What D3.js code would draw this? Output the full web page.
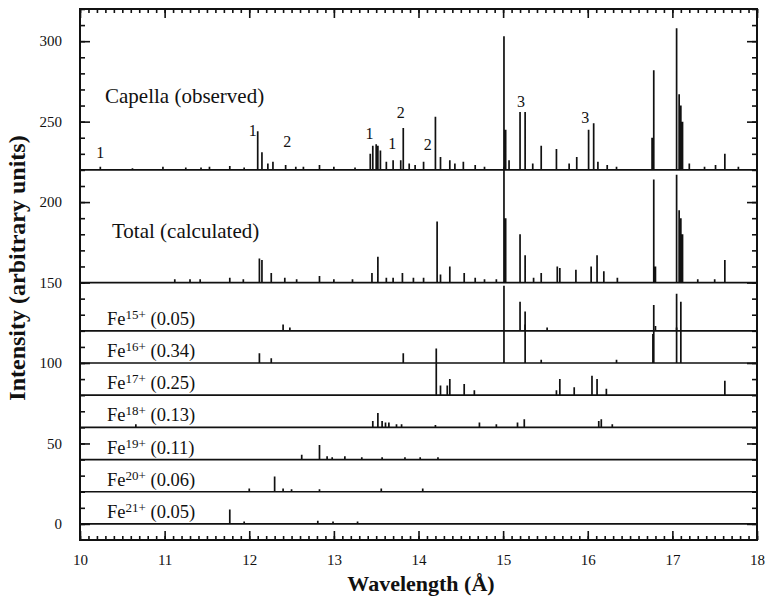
<!DOCTYPE html>
<html>
<head>
<meta charset="utf-8">
<script src="https://cdn.jsdelivr.net/npm/d3@7"></script>
<style>
  body { margin: 0; background: #fff; }
  svg text { font-family: 'Liberation Serif', 'DejaVu Serif', serif; fill: #111; }
</style>
</head>
<body>
<svg id="chart" width="772" height="602"></svg>
<script>
// Wavelength axis (Å) and intensity axis ticks
const xTicks = [10, 11, 12, 13, 14, 15, 16, 17, 18];
const yTicks = [0, 50, 100, 150, 200, 250, 300];

// Vertical offsets of each stacked spectrum (intensity units)
const rowOffsets = [220, 150, 120, 100, 80, 60, 40, 20, 0];

// Ion rows: charge state and relative weight
const ionCharges = ["15+", "16+", "17+", "18+", "19+", "20+", "21+"];
const ionWeights = ["0.05", "0.34", "0.25", "0.13", "0.11", "0.06", "0.05"];

// Line lists: [wavelength Å, height above the row baseline]
const capellaLines = [
  [10.24, 2], [10.62, 1], [10.98, 2], [11.25, 1.5], [11.43, 1.5], [11.53, 2], [11.77, 2.5],
  [11.94, 1.5], [12.10, 24], [12.15, 11], [12.22, 4], [12.28, 5], [12.43, 3], [12.55, 2],
  [12.64, 2], [12.83, 3], [13.00, 2], [13.25, 1.5], [13.43, 10], [13.46, 15], [13.50, 16],
  [13.52, 15], [13.55, 12], [13.62, 5], [13.70, 6], [13.79, 6], [13.82, 26], [13.89, 4],
  [13.96, 3], [14.06, 5], [14.20, 33], [14.26, 8], [14.37, 6], [14.43, 4], [14.53, 5],
  [14.67, 3], [14.78, 2], [15.01, 83], [15.03, 25], [15.07, 6], [15.20, 36], [15.26, 36],
  [15.35, 4], [15.45, 15], [15.63, 13], [15.78, 4], [15.87, 8], [16.01, 25], [16.07, 29],
  [16.12, 5], [16.23, 3], [16.34, 2], [16.78, 62], [16.76, 20], [17.05, 88], [17.08, 47],
  [17.10, 40], [17.12, 30], [17.20, 4], [17.38, 2], [17.51, 3], [17.62, 10], [17.78, 2]
];
const totalLines = [
  [11.12, 2], [11.30, 2], [11.42, 2], [11.77, 3], [11.93, 2], [12.12, 15], [12.15, 14],
  [12.26, 6], [12.42, 3], [12.56, 2], [12.83, 4], [13.00, 2], [13.22, 2], [13.45, 6],
  [13.52, 16], [13.62, 3], [13.70, 3], [13.81, 6], [13.94, 3], [14.06, 3], [14.22, 38],
  [14.26, 5], [14.37, 10], [14.54, 6], [14.67, 3], [14.78, 2], [14.92, 2], [15.01, 72],
  [15.03, 40], [15.20, 30], [15.26, 17], [15.36, 3], [15.45, 6], [15.64, 10], [15.67, 9],
  [15.86, 8], [16.04, 10], [16.11, 17], [16.19, 7], [16.35, 3], [16.78, 64], [16.80, 10],
  [17.05, 67], [17.08, 45], [17.10, 40], [17.12, 30], [17.30, 2], [17.50, 2], [17.62, 14]
];
const fe15Lines = [
  [12.40, 4], [12.48, 2], [15.20, 18], [15.26, 12], [15.52, 2], [16.80, 3], [17.05, 2]
];
const fe16Lines = [
  [12.12, 6], [12.26, 3], [13.82, 6], [15.01, 48], [15.26, 24], [15.45, 2], [16.34, 2],
  [16.77, 18], [16.78, 36], [17.05, 43], [17.10, 38]
];
const fe17Lines = [
  [14.21, 29], [14.26, 6], [14.34, 6], [14.37, 10], [14.54, 7], [14.66, 3], [15.63, 3],
  [15.67, 10], [15.84, 5], [16.05, 12], [16.11, 10], [16.22, 4], [17.62, 9]
];
const fe18Lines = [
  [10.66, 2], [13.46, 4], [13.52, 9], [13.57, 4], [13.61, 3], [13.65, 3], [13.74, 2],
  [13.80, 2], [14.20, 1.5], [14.72, 3], [14.92, 2], [15.17, 3], [15.25, 5], [16.13, 4],
  [16.16, 5], [16.29, 2]
];
const fe19Lines = [
  [12.62, 3], [12.83, 9], [12.92, 2], [12.98, 1.5], [13.13, 2], [13.33, 1.5], [13.57, 1.5],
  [13.84, 1.5], [14.02, 1.5], [14.23, 1.5]
];
const fe20Lines = [
  [12.00, 2], [12.30, 9.5], [12.40, 2], [12.50, 1.5], [12.83, 1.5], [13.56, 2], [14.05, 2]
];
const fe21Lines = [
  [11.77, 9], [11.94, 1.5], [12.81, 2], [12.99, 1.5], [13.28, 1.5]
];
const rowLines = [capellaLines, totalLines, fe15Lines, fe16Lines, fe17Lines,
                  fe18Lines, fe19Lines, fe20Lines, fe21Lines];

// Line identification markers on the observed spectrum: [wavelength, intensity, text]
const idMarks = [
  [10.24, 231, "1"], [12.04, 245, "1"], [12.45, 238, "2"], [13.42, 243, "1"],
  [13.69, 237, "1"], [13.79, 256, "2"], [14.11, 236, "2"], [15.21, 263, "3"], [15.97, 253, "3"]
];

const svg = d3.select("#chart");
const mLeft = 80, mRight = 757, mTop = 9, mBottom = 540;

const x = d3.scaleLinear().domain([10, 18]).range([mLeft, mRight]);
const y = d3.scaleLinear().domain([-10, 320]).range([mBottom, mTop]);

// Stick spectrum path: baseline with a vertical spike for every line
const line = d3.line().x(d => x(d[0])).y(d => y(d[1]));
function spectrumPoints(lines, base) {
  const pts = [[10, base]];
  lines.slice().sort((a, b) => a[0] - b[0]).forEach(([w, h]) => {
    pts.push([w, base], [w, base + h], [w, base]);
  });
  pts.push([18, base]);
  return pts;
}

const plot = svg.append("g");
rowLines.forEach((lines, i) => {
  plot.append("path")
    .attr("d", line(spectrumPoints(lines, rowOffsets[i])))
    .attr("fill", "none")
    .attr("stroke", "#111")
    .attr("stroke-width", 1.7)
    .attr("stroke-linejoin", "miter");
});

// Axes with inward ticks on all four sides
const minorX = d3.range(100, 181).map(v => v / 10);
const minorY = d3.range(0, 321, 10);

function addAxis(axis, tx, ty) {
  const g = svg.append("g").attr("transform", `translate(${tx},${ty})`);
  g.call(axis);
  g.select(".domain").remove();
  return g;
}

addAxis(d3.axisBottom(x).tickValues(minorX).tickSize(-4).tickFormat(""), 0, mBottom);
addAxis(d3.axisBottom(x).tickValues(xTicks).tickSize(-9).tickPadding(14).tickFormat(d3.format("d")), 0, mBottom);
addAxis(d3.axisTop(x).tickValues(minorX).tickSize(-4).tickFormat(""), 0, mTop);
addAxis(d3.axisTop(x).tickValues(xTicks).tickSize(-9).tickFormat(""), 0, mTop);
addAxis(d3.axisLeft(y).tickValues(minorY).tickSize(-5).tickFormat(""), mLeft, 0);
addAxis(d3.axisLeft(y).tickValues(yTicks).tickSize(-10).tickPadding(18).tickFormat(d3.format("d")), mLeft, 0);
addAxis(d3.axisRight(y).tickValues(minorY).tickSize(-5).tickFormat(""), mRight, 0);
addAxis(d3.axisRight(y).tickValues(yTicks).tickSize(-10).tickFormat(""), mRight, 0);

svg.selectAll(".tick line").attr("stroke", "#111").attr("stroke-width", 1.6);
svg.selectAll(".tick text")
  .style("font-family", "'Liberation Serif','DejaVu Serif',serif")
  .style("font-size", "15px").attr("fill", "#111");

// Frame
svg.append("rect")
  .attr("x", mLeft).attr("y", mTop)
  .attr("width", mRight - mLeft).attr("height", mBottom - mTop)
  .attr("fill", "none").attr("stroke", "#111").attr("stroke-width", 2);

// Axis titles
svg.append("text")
  .attr("x", 421).attr("y", 591)
  .attr("text-anchor", "middle")
  .style("font-size", "22px").style("font-weight", "bold")
  .text("Wavelength (Å)");
svg.append("text")
  .attr("transform", "translate(25,268) rotate(-90)")
  .attr("text-anchor", "middle")
  .style("font-size", "24px").style("font-weight", "bold")
  .text("Intensity (arbitrary units)");

// Spectrum labels
svg.append("text").attr("x", 105).attr("y", 103)
  .style("font-size", "21px").text("Capella (observed)");
svg.append("text").attr("x", 112).attr("y", 238)
  .style("font-size", "21px").text("Total (calculated)");

ionCharges.forEach((c, i) => {
  const t = svg.append("text")
    .attr("x", 107).attr("y", y(rowOffsets[i + 2]) - 6)
    .style("font-size", "18.5px");
  t.append("tspan").text("Fe");
  t.append("tspan").attr("dy", -6).style("font-size", "13px").text(c);
  t.append("tspan").attr("dy", 6).text(" (" + ionWeights[i] + ")");
});

// Line identification numbers
svg.selectAll("text.idmark").data(idMarks).enter().append("text")
  .attr("class", "idmark")
  .attr("x", d => x(d[0])).attr("y", d => y(d[1]) + 6)
  .attr("text-anchor", "middle")
  .style("font-size", "16px")
  .text(d => d[2]);
</script>
</body>
</html>
